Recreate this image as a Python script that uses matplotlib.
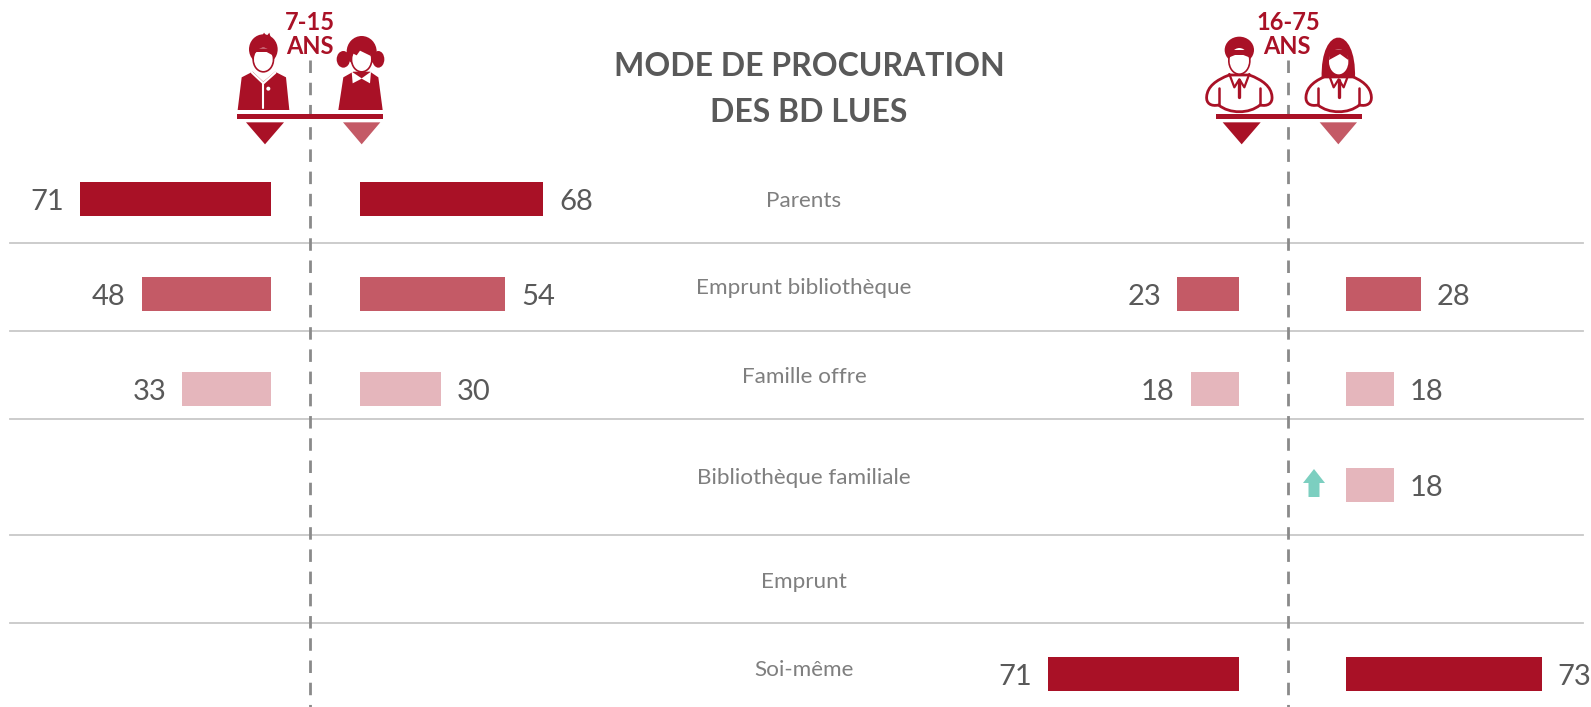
import numpy as np
import matplotlib
matplotlib.use('Agg')
import matplotlib.pyplot as plt
from matplotlib.patches import Ellipse, Polygon, PathPatch
from matplotlib.path import Path

plt.rcParams['font.family'] = ['Lato', 'DejaVu Sans']

categories = ['Parents', 'Emprunt bibliothèque', 'Famille offre', 'Bibliothèque familiale', 'Emprunt', 'Soi-même']
boys = [71, 48, 33, np.nan, np.nan, np.nan]
girls = [68, 54, 30, np.nan, np.nan, np.nan]
men = [np.nan, 23, 18, np.nan, np.nan, 71]
women = [np.nan, 28, 18, 18, np.nan, 73]

dark = '#a91126'
mid = '#c45a66'
light = '#e5b6bc'
grey = '#595959'
row_colors = [dark, mid, light, light, light, dark]
bar_y = [199, 294, 389, 485, 580, 674]
label_y = [201, 288.5, 377, 478.5, 581.5, 670]
sep_y = [242.5, 331, 419, 535, 623]
px = 2.69

fig = plt.figure(figsize=(15.91, 7.07), dpi=100)
ax = fig.add_axes([0, 0, 1, 1])
ax.set_xlim(0, 1591)
ax.set_ylim(707, 0)
ax.axis('off')

for y in sep_y:
    ax.plot([10, 1583], [y, y], color='#c8c8c8', lw=1.3, zorder=1)
for x in [310, 1287.5]:
    ax.plot([x, x], [60, 707], color='#8a8a8a', lw=2, dashes=(4.5, 3.5), zorder=1)


def draw_side(values, base, sign):
    for i, v in enumerate(values):
        if np.isnan(v):
            continue
        ax.barh(bar_y[i], sign * v * px, left=base, height=34, color=row_colors[i], zorder=2)
        end = base + sign * v * px
        ax.text(end + sign * 16, bar_y[i] + 3, str(v), color=grey, fontsize=21,
                ha='left' if sign > 0 else 'right', va='center')


draw_side(boys, 271, -1)
draw_side(girls, 360, 1)
draw_side(men, 1239, -1)
draw_side(women, 1345.5, 1)

for i, c in enumerate(categories):
    ax.text(804, label_y[i], c, color='#7f7f7f', fontsize=16.2, ha='center', va='center')

ax.text(809, 66, 'MODE DE PROCURATION', color=grey, fontsize=23, fontweight='bold', ha='center', va='center')
ax.text(809, 112, 'DES BD LUES', color=grey, fontsize=23, fontweight='bold', ha='center', va='center')
ax.text(310, 22, '7-15', color=dark, fontsize=17, fontweight='bold', ha='center', va='center')
ax.text(310, 47, 'ANS', color=dark, fontsize=17, fontweight='bold', ha='center', va='center')
ax.text(1288, 22, '16-75', color=dark, fontsize=17, fontweight='bold', ha='center', va='center')
ax.text(1287, 47, 'ANS', color=dark, fontsize=17, fontweight='bold', ha='center', va='center')

# arrow next to the bibliotheque familiale row
ax.add_patch(Polygon([(1303, 483), (1314, 469), (1325, 483), (1319.5, 483), (1319.5, 497), (1308.5, 497), (1308.5, 483)],
                     color='#7ccfc0', lw=0, zorder=3))


# pictos: coordinates are the zoomed crop ones (3x) with an offset
def zp(x0, pts):
    return [(x0 + a / 3, b / 3) for a, b in pts]


def ell(x0, cx, cy, rx, ry, color, z=3):
    ax.add_patch(Ellipse((x0 + cx / 3, cy / 3), 2 * rx / 3, 2 * ry / 3, color=color, lw=0, zorder=z))


def poly(x0, pts, color, z=3):
    ax.add_patch(Polygon(zp(x0, pts), color=color, lw=0, zorder=z))


def line(x0, pts, color='white', lw=1.6, z=4):
    p = zp(x0, pts)
    ax.plot([a for a, b in p], [b for a, b in p], color=color, lw=lw, zorder=z, solid_capstyle='round')


def hbar_tri(x0, x1, x2, tri1, tri2):
    poly(x0, [(x1, 341), (x2, 341), (x2, 356), (x1, 356)], dark)
    poly(x0, [(tri1 - 57, 367), (tri1 + 57, 367), (tri1, 433)], dark)
    poly(x0, [(tri2 - 56, 367), (tri2 + 56, 367), (tri2, 433)], mid)


def adult_body(x0, cx):
    verts = [(cx - 62, 315),
             (cx - 85, 320), (cx - 100, 310), (cx - 98, 290),
             (cx - 96, 260), (cx - 70, 240), (cx - 30, 225),
             (cx + 30, 225),
             (cx + 70, 240), (cx + 96, 260), (cx + 98, 290),
             (cx + 100, 310), (cx + 85, 320), (cx + 62, 315),
             (cx + 30, 342), (cx - 30, 342), (cx - 62, 315),
             (cx - 62, 315)]
    codes = [Path.MOVETO] + [Path.CURVE4] * 6 + [Path.LINETO] + [Path.CURVE4] * 9 + [Path.CLOSEPOLY]
    ax.add_patch(PathPatch(Path(zp(x0, verts), codes), facecolor='white', edgecolor=dark, lw=2, zorder=3))
    line(x0, [(cx - 62, 265), (cx - 62, 312)], dark, 1.8)
    line(x0, [(cx + 62, 265), (cx + 62, 312)], dark, 1.8)
    line(x0, [(cx - 30, 222), (cx - 15, 262), (cx, 238), (cx + 15, 262), (cx + 30, 222)], dark, 1.6)
    line(x0, [(cx, 240), (cx, 290)], dark, 2.4)


# boy
x0 = 200
ell(x0, 190, 148, 43, 45, dark)
poly(x0, [(185, 110), (192, 98), (200, 108), (208, 98), (213, 115), (225, 125), (195, 130)], dark)
ell(x0, 190, 178, 33, 40, dark)
ell(x0, 190, 178, 28, 35, 'white', 4)
poly(x0, [(160, 162), (170, 145), (215, 145), (222, 168), (200, 156), (170, 156)], dark, 5)
poly(x0, [(113, 330), (125, 232), (158, 215), (190, 245), (225, 215), (258, 232), (268, 330)], dark)
line(x0, [(156, 218), (190, 250), (226, 218)])
line(x0, [(190, 250), (190, 325)], lw=1.5)
ell(x0, 205, 266, 6, 6, 'white', 4)

# girl
ell(x0, 485, 155, 45, 47, dark)
ell(x0, 430, 178, 20, 25, dark)
ell(x0, 535, 178, 18, 25, dark)
ell(x0, 485, 178, 33, 40, dark)
ell(x0, 485, 178, 28, 35, 'white', 4)
poly(x0, [(458, 160), (470, 140), (505, 140), (513, 168), (480, 152), (470, 166)], dark, 5)
poly(x0, [(415, 330), (430, 232), (460, 215), (510, 215), (535, 232), (548, 330)], dark)
poly(x0, [(455, 215), (485, 235), (513, 215), (510, 250), (485, 236), (458, 250)], 'white', 4)
hbar_tri(x0, 112, 550, 195, 485)

# man
x0 = 1180
adult_body(x0, 178)
ell(x0, 178, 150, 44, 40, dark, 4)
ell(x0, 178, 182, 34, 43, dark, 4)
ell(x0, 178, 182, 29, 38, 'white', 5)
poly(x0, [(148, 172), (153, 150), (203, 150), (208, 172), (190, 165), (165, 165)], dark, 6)

# woman
adult_body(x0, 476)
ax.add_patch(PathPatch(Path(zp(x0, [(425, 235), (420, 72), (530, 72), (525, 235), (425, 235)]),
                            [Path.MOVETO, Path.CURVE4, Path.CURVE4, Path.CURVE4, Path.CLOSEPOLY]),
                       facecolor=dark, lw=0, zorder=4))
ell(x0, 476, 185, 29, 38, 'white', 5)
poly(x0, [(447, 180), (452, 148), (500, 148), (505, 180), (480, 162)], dark, 6)
hbar_tri(x0, 108, 547, 185, 475)

fig.savefig('out.png', dpi=100)
